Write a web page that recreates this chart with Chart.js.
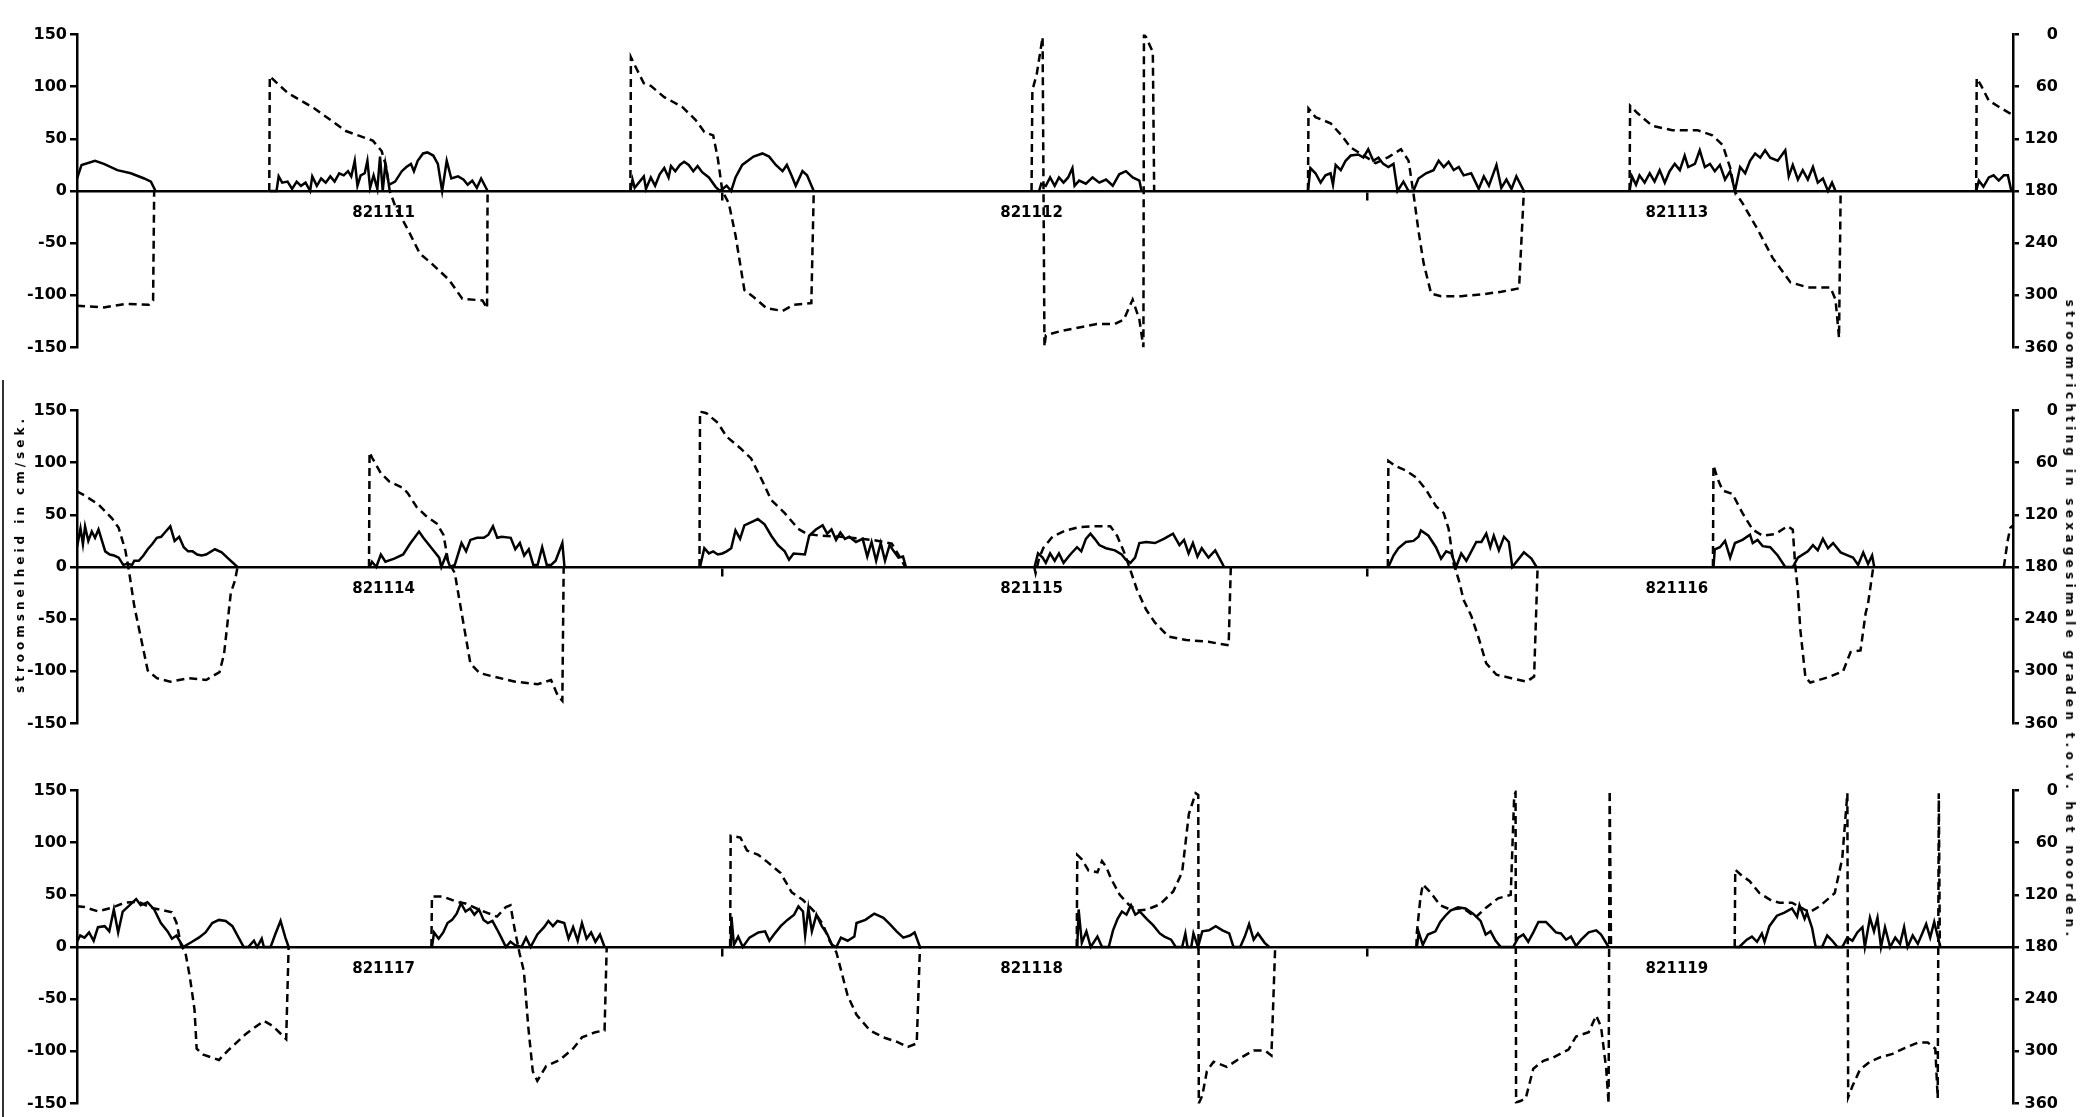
<!DOCTYPE html>
<html>
<head>
<meta charset="utf-8">
<script src="https://cdn.jsdelivr.net/npm/chart.js@4/dist/chart.umd.min.js"></script>
<style>
  html, body { margin: 0; padding: 0; background: #fff; overflow: hidden; }
  #page { position: relative; width: 2088px; height: 1117px; }
  canvas { position: absolute; left: 0; }
  .titel { position: absolute; white-space: nowrap; font: bold 12px "DejaVu Sans"; color: #000; }
  #titelLinks { left: 20px; top: 554px; letter-spacing: 4px; transform: translate(-50%, -50%) rotate(-90deg); }
  #titelRechts { left: 2070px; top: 620px; letter-spacing: 4.3px; transform: translate(-50%, -50%) rotate(90deg); }
  #rand { position: absolute; left: 2px; top: 380px; width: 2px; height: 737px; background: #333; }
</style>
</head>
<body>
<div id="page">
  <canvas id="paneel1" width="2088" height="348" style="top:17px"></canvas>
  <canvas id="paneel2" width="2088" height="348" style="top:393px"></canvas>
  <canvas id="paneel3" width="2088" height="348" style="top:773px"></canvas>
  <div id="rand"></div>
  <div class="titel" id="titelLinks">stroomsnelheid in cm/sek.</div>
  <div class="titel" id="titelRechts">stroomrichting in sexagesimale graden t.o.v. het noorden.</div>
</div>
<script>
// uren vanaf begin van elk paneel (3 dagen per paneel)
const dagGrenzen = [24, 48];
const datumUren = [11.4, 35.5, 59.5];
const datums1 = ["821111", "821112", "821113"];
const datums2 = ["821114", "821115", "821116"];
const datums3 = ["821117", "821118", "821119"];
const snelheidTicks = [-150, -100, -50, 0, 50, 100, 150];
const richtingTicks = [0, 60, 120, 180, 240, 300, 360];

// [uur, snelheid cm/s]  (null = geen meting)
const snelheid1 = [
  [0,12],[0.17,25],[0.67,29],[1.0,26],[1.5,20],[2.0,17],[2.5,12],[2.75,9],[2.92,0],[3.0,null],
  [7.17,0],[7.42,0],[7.5,14],[7.63,8],[7.83,9],[8.0,2],[8.17,9],[8.33,5],[8.5,8],[8.67,0],[8.75,14],[8.92,5],[9.08,12],[9.25,8],[9.42,14],[9.58,9],[9.75,17],[9.92,15],[10.08,19],[10.2,14],[10.33,29],[10.43,5],[10.55,15],[10.7,17],[10.8,29],[10.9,3],[11.03,15],[11.17,2],[11.27,33],[11.37,0],[11.47,26],[11.6,6],[11.83,9],[12.08,19],[12.25,23],[12.42,26],[12.53,19],[12.67,29],[12.87,36],[13.03,37],[13.25,34],[13.42,26],[13.58,0],[13.75,29],[13.92,12],[14.17,14],[14.37,11],[14.53,6],[14.7,10],[14.87,3],[15.03,12],[15.17,5],[15.27,0],[15.3,null],
  [20.58,0],[20.66,11],[20.74,3],[21.08,14],[21.16,2],[21.34,13],[21.5,5],[21.67,16],[21.84,22],[22.0,13],[22.09,24],[22.25,19],[22.42,25],[22.58,28],[22.75,25],[22.92,19],[23.08,24],[23.25,18],[23.5,13],[23.75,4],[23.91,0],[24.16,5],[24.33,0],[24.49,13],[24.74,25],[25.16,33],[25.49,36],[25.74,33],[25.99,25],[26.24,19],[26.4,25],[26.57,15],[26.73,5],[26.98,19],[27.15,15],[27.4,0],[27.5,null],
  [35.78,0],[35.86,7],[36.03,5],[36.19,13],[36.36,5],[36.52,13],[36.69,8],[36.86,13],[37.02,22],[37.1,5],[37.27,10],[37.52,7],[37.77,13],[38.02,8],[38.27,11],[38.52,5],[38.76,16],[39.01,19],[39.26,13],[39.51,10],[39.59,0],[39.7,null],
  [45.78,0],[45.87,22],[46.06,17],[46.25,8],[46.43,15],[46.62,17],[46.71,6],[46.81,25],[47.0,20],[47.18,29],[47.37,34],[47.65,35],[47.84,32],[48.02,40],[48.21,29],[48.4,32],[48.58,26],[48.77,23],[48.96,26],[49.11,0],[49.33,9],[49.52,0],[49.7,0],[49.89,12],[50.17,17],[50.45,20],[50.64,29],[50.83,23],[51.01,28],[51.2,20],[51.39,23],[51.57,15],[51.85,17],[52.13,2],[52.32,14],[52.51,5],[52.79,25],[52.97,3],[53.16,11],[53.35,2],[53.53,14],[53.81,0],[53.9,null],
  [57.74,0],[57.83,14],[57.98,6],[58.11,15],[58.3,8],[58.49,17],[58.67,9],[58.86,20],[59.05,8],[59.23,19],[59.42,26],[59.61,20],[59.79,34],[59.92,23],[60.17,26],[60.35,39],[60.54,23],[60.73,26],[60.91,19],[61.1,25],[61.29,11],[61.48,19],[61.66,0],[61.85,23],[62.04,17],[62.22,29],[62.41,36],[62.6,32],[62.78,39],[62.97,32],[63.25,29],[63.53,39],[63.66,14],[63.81,25],[64.0,11],[64.18,20],[64.37,11],[64.56,23],[64.74,8],[64.93,12],[65.12,0],[65.27,8],[65.4,0],[65.5,null],
  [70.63,0],[70.73,10],[70.9,4],[71.1,13],[71.28,15],[71.47,10],[71.66,15],[71.81,15],[71.94,0]
];
// [uur, richting in graden]
const richting1 = [
  [0,312],[1.0,314],[1.83,310],[2.67,311],[2.83,306],[2.87,180],[3.0,null],
  [7.15,180],[7.17,48],[7.83,67],[8.83,85],[10.0,111],[11.0,122],[11.33,134],[11.5,152],[11.63,180],[11.83,197],[12.33,226],[12.75,252],[13.17,263],[13.83,282],[14.33,304],[15.08,306],[15.25,315],[15.27,180],[15.3,null],
  [20.58,180],[20.6,26],[20.74,35],[21.08,56],[21.34,59],[21.84,72],[22.5,83],[23.0,98],[23.33,112],[23.66,116],[23.83,142],[24.0,180],[24.24,194],[24.49,231],[24.82,294],[25.16,302],[25.65,315],[26.24,318],[26.65,311],[27.31,309],[27.4,180],[27.5,null],
  [35.5,180],[35.53,64],[35.69,46],[35.91,3],[35.98,359],[36.03,346],[36.61,341],[37.27,337],[37.93,333],[38.6,333],[38.93,328],[39.26,305],[39.51,328],[39.66,360],[39.68,0],[39.76,3],[40.01,20],[40.06,180],[40.1,null],
  [45.78,180],[45.8,85],[46.06,95],[46.62,102],[47.0,115],[47.37,130],[47.74,137],[48.3,148],[48.77,141],[49.24,132],[49.52,145],[49.7,182],[49.89,226],[50.08,263],[50.36,298],[50.73,301],[51.48,301],[52.23,299],[52.97,296],[53.63,292],[53.81,180],[53.9,null],
  [57.74,180],[57.76,82],[58.02,90],[58.58,105],[59.33,110],[60.26,110],[60.82,116],[61.2,127],[61.48,153],[61.66,181],[61.94,194],[62.5,224],[63.06,257],[63.72,285],[64.37,291],[65.21,291],[65.4,305],[65.53,349],[65.59,180],[65.7,null],
  [70.63,180],[70.65,50],[70.82,59],[71.1,76],[71.47,83],[71.85,90],[72,92]
];

const snelheid2 = [
  [0,19],[0.13,37],[0.22,22],[0.3,39],[0.42,25],[0.55,34],[0.67,28],[0.8,36],[0.93,25],[1.05,15],[1.22,12],[1.38,11],[1.55,9],[1.72,2],[1.88,3],[2.05,2],[2.13,6],[2.3,6],[2.47,11],[2.63,17],[2.8,22],[2.97,28],[3.13,29],[3.3,34],[3.47,39],[3.63,25],[3.8,29],[3.97,19],[4.13,15],[4.3,15],[4.47,12],[4.63,11],[4.8,12],[5.13,17],[5.38,14],[5.63,8],[5.97,0],[6.1,null],
  [10.88,0],[10.97,5],[11.13,0],[11.3,12],[11.47,5],[11.8,8],[12.13,12],[12.38,22],[12.72,34],[12.88,28],[13.22,17],[13.47,9],[13.55,0],[13.72,11],[13.88,0],[14.05,2],[14.3,23],[14.47,15],[14.63,26],[14.88,28],[15.13,28],[15.3,31],[15.47,39],[15.63,28],[15.8,29],[16.13,28],[16.3,17],[16.47,23],[16.63,11],[16.8,17],[16.97,2],[17.13,2],[17.3,19],[17.47,2],[17.63,2],[17.8,6],[18.05,23],[18.13,0],[18.2,null],
  [23.17,0],[23.33,18],[23.5,13],[23.66,15],[23.83,12],[24.0,13],[24.16,15],[24.33,18],[24.49,35],[24.66,27],[24.82,40],[25.16,44],[25.32,46],[25.57,41],[25.82,30],[26.07,21],[26.32,15],[26.48,7],[26.65,13],[27.07,12],[27.23,30],[27.48,36],[27.73,40],[27.9,32],[28.06,36],[28.23,26],[28.39,33],[28.56,27],[28.72,29],[28.97,24],[29.22,27],[29.39,10],[29.55,24],[29.72,6],[29.89,23],[30.05,6],[30.22,21],[30.38,15],[30.55,9],[30.72,10],[30.83,0],[30.9,null],
  [35.61,0],[35.74,13],[35.91,9],[36.03,4],[36.19,13],[36.36,6],[36.52,13],[36.69,4],[36.94,12],[37.19,19],[37.35,15],[37.52,27],[37.69,32],[37.85,27],[38.02,21],[38.27,18],[38.6,16],[38.85,12],[39.01,7],[39.18,4],[39.35,9],[39.51,23],[39.76,24],[40.09,23],[40.42,27],[40.76,32],[41.0,21],[41.17,26],[41.34,13],[41.5,23],[41.67,10],[41.83,18],[42.08,9],[42.33,16],[42.58,4],[42.66,0],[42.8,null],
  [48.77,0],[48.96,11],[49.14,18],[49.42,24],[49.7,25],[49.89,29],[49.98,35],[50.26,30],[50.54,19],[50.73,8],[50.92,15],[51.11,13],[51.29,0],[51.48,13],[51.67,6],[52.04,24],[52.23,24],[52.41,32],[52.56,19],[52.69,30],[52.88,16],[53.07,29],[53.25,24],[53.38,0],[53.81,14],[54.09,8],[54.28,0],[54.4,null],
  [60.86,0],[60.91,17],[61.1,19],[61.29,25],[61.48,9],[61.66,23],[61.94,26],[62.22,31],[62.32,23],[62.5,26],[62.69,20],[62.97,19],[63.25,11],[63.53,0],[63.81,0],[64.0,9],[64.37,15],[64.56,21],[64.74,16],[64.93,27],[65.12,18],[65.31,23],[65.59,14],[65.87,11],[66.05,9],[66.24,2],[66.43,14],[66.61,3],[66.76,11],[66.84,0]
];
const richting2 = [
  [0,93],[0.3,98],[0.8,108],[1.3,124],[1.55,135],[1.8,161],[1.93,184],[2.13,225],[2.38,262],[2.63,299],[2.97,308],[3.47,312],[4.13,308],[4.8,310],[5.3,301],[5.47,280],[5.72,210],[5.88,195],[5.97,180],[6.1,null],
  [10.86,180],[10.88,48],[10.97,54],[11.3,72],[11.63,82],[12.13,89],[12.3,95],[12.63,111],[12.97,121],[13.38,130],[13.63,143],[13.8,173],[14.05,187],[14.3,232],[14.63,291],[14.97,302],[15.47,306],[16.3,312],[17.13,315],[17.63,310],[17.88,328],[18.05,334],[18.1,180],[18.2,null],
  [23.15,180],[23.17,1],[23.41,3],[23.83,14],[24.16,30],[24.66,43],[25.07,55],[25.49,81],[25.82,103],[26.32,118],[26.82,136],[27.15,142],[27.65,144],[28.31,145],[28.97,147],[29.64,149],[30.3,153],[30.63,170],[30.8,180],[30.9,null],
  [35.6,180],[35.65,187],[35.78,170],[35.94,158],[36.28,145],[36.77,138],[37.27,134],[37.93,133],[38.43,133],[38.68,144],[38.93,162],[39.18,184],[39.43,207],[39.76,229],[40.09,244],[40.59,260],[41.25,264],[42.08,266],[42.42,268],[42.83,270],[42.91,180],[43.0,null],
  [48.75,180],[48.77,58],[49.05,64],[49.42,69],[49.8,77],[50.17,91],[50.54,110],[50.83,118],[51.01,136],[51.2,177],[51.39,195],[51.57,218],[51.85,236],[52.13,262],[52.41,291],[52.79,304],[53.35,308],[53.91,312],[54.19,306],[54.32,180],[54.4,null],
  [60.84,180],[60.86,63],[61.01,78],[61.2,92],[61.57,96],[61.94,118],[62.32,137],[62.69,144],[63.16,142],[63.62,133],[63.81,137],[63.9,178],[64.0,207],[64.09,252],[64.28,307],[64.46,313],[65.12,307],[65.68,300],[65.96,278],[66.33,276],[66.52,233],[66.61,222],[66.8,181],[66.9,null],
  [71.66,180],[71.8,150],[71.9,135],[72,132]
];

const snelheid3 = [
  [0,5],[0.12,11],[0.28,9],[0.45,14],[0.62,6],[0.78,19],[1.03,20],[1.2,15],[1.37,36],[1.53,14],[1.7,34],[1.95,40],[2.2,46],[2.37,40],[2.62,43],[2.87,36],[3.12,23],[3.37,15],[3.53,8],[3.7,11],[3.95,0],[4.28,5],[4.53,9],[4.78,14],[5.03,23],[5.28,26],[5.53,25],[5.78,20],[6.03,8],[6.2,0],[6.37,0],[6.58,6],[6.7,0],[6.87,8],[6.95,0],[7.2,0],[7.37,12],[7.57,25],[7.75,9],[7.87,0],[8.0,null],
  [13.2,0],[13.28,14],[13.45,8],[13.62,14],[13.78,23],[13.95,26],[14.12,32],[14.28,42],[14.45,34],[14.62,37],[14.78,31],[14.95,36],[15.12,26],[15.28,23],[15.45,25],[15.62,17],[15.78,9],[15.95,0],[16.12,5],[16.28,2],[16.53,0],[16.7,9],[16.87,0],[17.12,12],[17.37,19],[17.53,25],[17.7,20],[17.87,25],[18.12,23],[18.28,8],[18.45,19],[18.62,6],[18.78,23],[18.95,8],[19.12,14],[19.28,5],[19.45,12],[19.62,0],[19.7,null],
  [24.31,0],[24.34,29],[24.43,2],[24.59,10],[24.76,0],[25.01,9],[25.34,14],[25.59,15],[25.75,6],[25.92,12],[26.17,20],[26.42,26],[26.67,31],[26.83,39],[27.0,34],[27.08,11],[27.2,37],[27.33,15],[27.5,31],[27.7,20],[27.91,12],[28.08,2],[28.24,0],[28.41,9],[28.66,6],[28.91,10],[28.99,23],[29.32,26],[29.65,32],[29.99,28],[30.23,22],[30.48,15],[30.73,9],[30.98,11],[31.15,14],[31.35,0],[31.4,null],
  [37.2,0],[37.25,36],[37.37,4],[37.54,15],[37.7,0],[37.95,10],[38.12,0],[38.37,0],[38.53,16],[38.7,27],[38.86,34],[39.03,31],[39.2,40],[39.36,31],[39.53,34],[39.78,27],[40.02,21],[40.27,13],[40.44,10],[40.69,7],[40.86,0],[41.1,0],[41.22,13],[41.3,0],[41.44,0],[41.52,13],[41.69,0],[41.85,15],[42.1,16],[42.35,20],[42.6,16],[42.85,13],[43.01,0],[43.26,0],[43.43,10],[43.59,22],[43.76,7],[43.92,13],[44.17,4],[44.34,0],[44.4,null],
  [49.83,0],[49.9,14],[50.05,2],[50.24,12],[50.52,15],[50.7,24],[50.89,30],[51.08,35],[51.36,38],[51.64,37],[51.92,32],[52.2,25],[52.39,12],[52.57,15],[52.76,6],[52.95,0],[53.41,0],[53.6,9],[53.79,12],[53.97,5],[54.16,14],[54.35,24],[54.63,24],[54.82,19],[55.0,14],[55.19,13],[55.38,7],[55.56,10],[55.75,1],[55.94,7],[56.22,14],[56.5,16],[56.68,12],[56.96,0],[57.1,null],
  [61.67,0],[61.82,0],[62.1,7],[62.29,10],[62.48,5],[62.66,13],[62.76,5],[62.94,20],[63.22,30],[63.5,33],[63.78,37],[63.97,29],[64.06,40],[64.25,27],[64.34,33],[64.53,18],[64.66,0],[64.9,0],[65.09,11],[65.28,6],[65.47,0],[65.65,0],[65.84,9],[66.03,6],[66.21,14],[66.4,19],[66.49,0],[66.68,28],[66.83,15],[66.96,28],[67.09,0],[67.24,19],[67.43,0],[67.62,9],[67.8,3],[67.95,19],[68.08,0],[68.27,11],[68.46,3],[68.64,14],[68.77,22],[68.92,9],[69.07,24],[69.2,10],[69.3,0]
];
const richting3 = [
  [0,133],[0.28,134],[0.78,139],[1.28,135],[1.78,129],[2.28,128],[2.78,135],[3.53,140],[3.7,152],[3.87,178],[4.03,186],[4.2,215],[4.37,252],[4.45,297],[4.7,304],[5.28,310],[5.62,299],[6.28,280],[6.95,265],[7.28,271],[7.78,286],[7.87,180],[8.0,null],
  [13.18,180],[13.2,122],[13.62,122],[14.12,128],[14.45,130],[14.95,137],[15.28,141],[15.62,145],[15.95,134],[16.12,132],[16.28,160],[16.45,186],[16.62,208],[16.78,271],[16.95,323],[17.12,334],[17.45,317],[17.95,310],[18.45,297],[18.78,284],[19.28,278],[19.62,276],[19.7,180],[19.8,null],
  [24.29,180],[24.31,52],[24.67,54],[24.92,69],[25.34,74],[25.67,82],[26.17,95],[26.58,117],[27.0,126],[27.41,139],[27.74,154],[27.99,173],[28.24,186],[28.41,206],[28.66,236],[28.99,258],[29.49,276],[29.99,284],[30.48,289],[30.9,295],[31.23,291],[31.35,180],[31.4,null],
  [37.18,180],[37.2,74],[37.37,79],[37.62,92],[37.95,94],[38.12,81],[38.28,88],[38.45,101],[38.78,120],[39.11,131],[39.44,138],[39.78,137],[40.27,131],[40.77,116],[41.1,94],[41.35,27],[41.6,3],[41.7,5],[41.72,360],[41.85,351],[42.02,323],[42.27,312],[42.76,318],[43.26,308],[43.76,299],[44.17,299],[44.42,305],[44.56,180],[44.6,null],
  [49.81,180],[49.83,163],[49.96,124],[50.05,108],[50.33,117],[50.7,132],[51.08,137],[51.55,135],[52.01,146],[52.39,135],[52.85,124],[53.32,120],[53.45,6],[53.5,2],[53.52,359],[53.7,357],[53.88,354],[54.16,320],[54.54,311],[54.91,307],[55.47,298],[55.75,283],[56.22,278],[56.5,259],[56.68,272],[56.87,320],[56.96,360],[57.0,0],[57.05,180],[57.1,null],
  [61.65,180],[61.67,91],[61.92,98],[62.2,104],[62.57,118],[63.04,127],[63.32,129],[63.78,129],[64.25,137],[64.44,140],[64.81,133],[65.37,118],[65.65,78],[65.84,3],[65.87,353],[66.03,340],[66.31,321],[66.68,312],[67.05,307],[67.52,303],[67.99,296],[68.46,290],[68.83,290],[69.11,297],[69.2,354],[69.24,3],[69.28,180]
];

const zwart = "#000";
const tickFont = { family: "DejaVu Sans", weight: "bold", size: 16 };
const datumFont = { family: "DejaVu Sans", weight: "bold", size: 15 };

function maakPaneel(id, snelheid, richting, datums) {
  new Chart(document.getElementById(id), {
    type: "line",
    data: {
      datasets: [
        { data: snelheid, xAxisID: "x", yAxisID: "y", borderColor: zwart, borderWidth: 2.5,
          pointRadius: 0, tension: 0, spanGaps: false },
        { data: richting, xAxisID: "x", yAxisID: "y2", borderColor: zwart, borderWidth: 2.5,
          borderDash: [8, 5], pointRadius: 0, tension: 0, spanGaps: false }
      ]
    },
    options: {
      responsive: false,
      animation: false,
      events: [],
      layout: { padding: { top: 12, bottom: 12, left: 0, right: 30 } },
      plugins: { legend: { display: false }, tooltip: { enabled: false } },
      scales: {
        x: {
          type: "linear", min: 0, max: 72, position: { y: 0 },
          afterFit: s => { s.height = 0; },
          afterBuildTicks: s => { s.ticks = dagGrenzen.map(v => ({ value: v })); },
          ticks: { display: false },
          grid: { drawOnChartArea: false, tickLength: 8, color: zwart, lineWidth: 2.5 },
          border: { color: zwart, width: 2.5 }
        },
        xd: {
          type: "linear", min: 0, max: 72, position: { y: 0 },
          afterFit: s => { s.height = 0; },
          afterBuildTicks: s => { s.ticks = datumUren.map(v => ({ value: v })); },
          ticks: { callback: (v, i) => datums[i], font: datumFont, color: zwart, padding: 13,
                   autoSkip: false, maxRotation: 0 },
          grid: { display: false, drawTicks: false },
          border: { display: false }
        },
        y: {
          position: "left", min: -150, max: 150,
          afterFit: s => { s.width = 77; },
          afterBuildTicks: s => { s.ticks = snelheidTicks.map(v => ({ value: v })); },
          ticks: { font: tickFont, color: zwart, padding: 3 },
          grid: { drawOnChartArea: false, tickLength: 7, color: zwart, lineWidth: 2.5 },
          border: { color: zwart, width: 2.5 }
        },
        y2: {
          position: "right", min: 0, max: 360, reverse: true,
          afterFit: s => { s.width = 45; },
          afterBuildTicks: s => { s.ticks = richtingTicks.map(v => ({ value: v })); },
          ticks: { font: tickFont, color: zwart, padding: 8, crossAlign: "far" },
          grid: { drawOnChartArea: false, tickLength: 6, color: zwart, lineWidth: 2.5 },
          border: { color: zwart, width: 2.5 }
        }
      }
    }
  });
}

maakPaneel("paneel1", snelheid1, richting1, datums1);
maakPaneel("paneel2", snelheid2, richting2, datums2);
maakPaneel("paneel3", snelheid3, richting3, datums3);
</script>
</body>
</html>
